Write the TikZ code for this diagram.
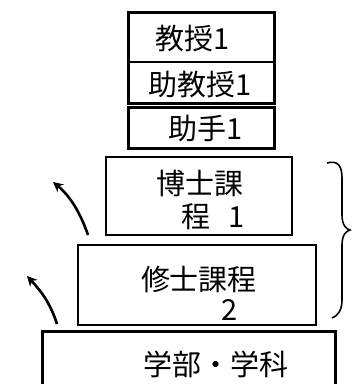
\documentclass[tikz,border=0pt]{standalone}
\usepackage{fontspec}
\newfontfamily\cjk{Noto Sans CJK JP}
\usetikzlibrary{arrows.meta}
\begin{document}
\begin{tikzpicture}[x=1pt,y=-1pt,
  thickbox/.style={draw=black,line width=3pt},
  thinbox/.style={draw=black,line width=1.5pt},
  lbl/.style={font=\cjk\fontsize{29}{33}\selectfont,inner sep=0pt},
  curarrow/.style={line width=2.6pt,-{Stealth[length=10pt,width=10pt]}}]
\useasboundingbox (0,0) rectangle (353,384);
% top stack
\draw[thickbox] (128,12) rectangle (274,103);
\draw[line width=1.4pt] (128,62) -- (274,62);
\draw[thickbox] (128,107) rectangle (274,148);
\node[lbl] (kyoju) at (193,39) {教授1};
\node[lbl] (jokyoju) at (200,85) {助教授1};
\node[lbl] (joshu) at (206,129) {助手1};
% doctoral
\draw[thinbox] (106,157) rectangle (292,235);
\node[lbl] (hakase1) at (200,183) {博士課};
\node[lbl] (hakase2) at (213,217) {程\hspace{18pt}1};
% masters
\draw[thinbox] (78,245) rectangle (316,325);
\node[lbl] (shushi1) at (199,279) {修士課程};
\node[lbl] (shushi2) at (230,310) {2};
% undergrad
\draw[thickbox] (42,386) -- (42,331) -- (335,331) -- (335,386);
\node[lbl] (gakubu) at (216,364) {学部・学科};
% arrows
\coordinate (a1s) at (88,235);
\coordinate (a1e) at (53,182);
\coordinate (a2s) at (57,324);
\coordinate (a2e) at (27,276);
\draw[curarrow] (a1s) .. controls (80,212) and (70,196) .. (a1e);
\draw[curarrow] (a2s) .. controls (50,302) and (40,290) .. (a2e);
% brace
\coordinate (bt) at (327,163);
\coordinate (bm) at (350,230);
\coordinate (bb) at (332,318);
\draw[line width=1.6pt] (bt) .. controls (338,160) and (342,166) .. (342,178)
  -- (342,215) .. controls (342,225) and (346,229) .. (bm)
  .. controls (346,231) and (342,235) .. (342,245)
  -- (342,300) .. controls (342,310) and (338,316) .. (bb);
\end{tikzpicture}
\end{document}
